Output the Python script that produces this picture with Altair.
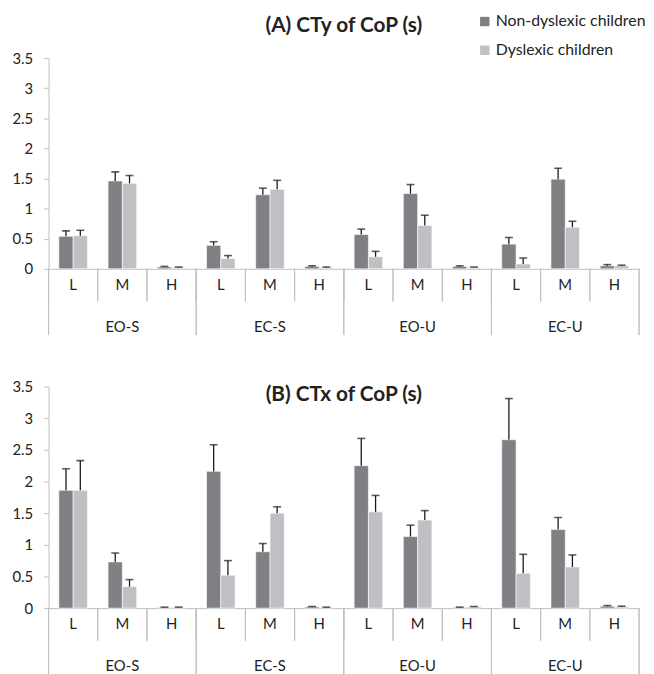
import altair as alt
import pandas as pd

conditions = ["EO-S", "EC-S", "EO-U", "EC-U"]
levels = ["L", "M", "H"]
groups = ["Non-dyslexic children", "Dyslexic children"]
colors = ["#7f7f84", "#bfc0c4"]

# Panel A: CTy of CoP (s)  (order: EO-S L,M,H, EC-S L,M,H, EO-U L,M,H, EC-U L,M,H)
cty_nd = [0.54, 1.46, 0.03, 0.39, 1.23, 0.04, 0.57, 1.25, 0.04, 0.41, 1.49, 0.05]
cty_nd_sd = [0.09, 0.15, 0.01, 0.06, 0.11, 0.01, 0.09, 0.15, 0.01, 0.11, 0.18, 0.02]
cty_d = [0.55, 1.42, 0.02, 0.17, 1.32, 0.02, 0.20, 0.72, 0.02, 0.08, 0.69, 0.05]
cty_d_sd = [0.09, 0.13, 0.01, 0.05, 0.15, 0.01, 0.09, 0.17, 0.01, 0.10, 0.10, 0.01]

# Panel B: CTx of CoP (s)
ctx_nd = [1.86, 0.73, 0.01, 2.16, 0.89, 0.02, 2.25, 1.13, 0.01, 2.66, 1.24, 0.03]
ctx_nd_sd = [0.34, 0.14, 0.005, 0.42, 0.13, 0.005, 0.43, 0.18, 0.005, 0.65, 0.19, 0.01]
ctx_d = [1.86, 0.34, 0.01, 0.52, 1.50, 0.01, 1.52, 1.39, 0.02, 0.55, 0.65, 0.02]
ctx_d_sd = [0.47, 0.11, 0.005, 0.23, 0.10, 0.005, 0.26, 0.15, 0.005, 0.30, 0.19, 0.01]

y_ticks = [0, 0.5, 1, 1.5, 2, 2.5, 3, 3.5]

subs = [f"{c} {l}" for c in conditions for l in levels]

FONT = "Lato"
W = 597
AXIS_GRAY = "#bfbfbf"


def make_df(nd, nd_sd, d, d_sd):
    rows = []
    for i, s in enumerate(subs):
        c, l = s.split(" ")
        for g, v, e in ((groups[0], nd[i], nd_sd[i]), (groups[1], d[i], d_sd[i])):
            rows.append({"sub": s, "cond": c, "level": l, "group": g,
                         "value": v, "top": v + e})
    return pd.DataFrame(rows)


def panel(df, title, h, title_y, show_legend):
    base = alt.Chart(df)
    x = alt.X("sub:N", sort=subs, title=None,
              scale=alt.Scale(paddingInner=0, paddingOuter=0),
              axis=alt.Axis(labelExpr="split(datum.value, ' ')[1]", labelAngle=0,
                            ticks=False, domainColor=AXIS_GRAY, labelPadding=16,
                            labelFontSize=15, labelColor="#222", labelFont=FONT,
                            labelBaseline="middle"))
    xo = alt.XOffset("group:N", sort=groups,
                     scale=alt.Scale(paddingInner=0, paddingOuter=0.72))
    yscale = alt.Scale(domain=[0, 3.5], nice=False)
    yaxis = alt.Axis(values=y_ticks, labelExpr="'' + datum.value", grid=False,
                     domainColor=AXIS_GRAY, tickColor=AXIS_GRAY, tickSize=5,
                     labelFontSize=15, labelColor="#222", labelFont=FONT,
                     labelPadding=11, labelOverlap=False)
    y = alt.Y("value:Q", title=None, scale=yscale, axis=yaxis)
    ytop = alt.Y("top:Q", title=None, scale=yscale, axis=yaxis)
    color = alt.Color("group:N", sort=groups,
                      scale=alt.Scale(domain=groups, range=colors),
                      legend=(alt.Legend(title=None, orient="none", legendX=433, legendY=-45,
                                         symbolType="square", symbolSize=90,
                                         symbolStrokeWidth=0, labelFontSize=16,
                                         labelFont=FONT, labelColor="#222",
                                         rowPadding=13, labelOffset=3)
                              if show_legend else None))
    bars = base.mark_bar(stroke="white", strokeWidth=0.6).encode(x=x, xOffset=xo, y=y, color=color)
    err = base.mark_rule(color="#1a1a1a", strokeWidth=1.3).encode(
        x=x, xOffset=xo, y=y, y2="top:Q")
    caps = base.mark_tick(color="#1a1a1a", size=8, thickness=1.6).encode(
        x=x, xOffset=xo, y=ytop)
    sep_small = base.mark_rule(color=AXIS_GRAY, strokeWidth=1).encode(
        x=alt.X("sub:N", sort=subs, bandPosition=0),
        y=alt.value(h), y2=alt.value(h + 33))
    sep_big = base.transform_filter("datum.level == 'L'").mark_rule(
        color=AXIS_GRAY, strokeWidth=1).encode(
        x=alt.X("sub:N", sort=subs, bandPosition=0),
        y=alt.value(h), y2=alt.value(h + 67))
    sep_end = base.transform_filter(f"datum.sub == '{subs[-1]}'").mark_rule(
        color=AXIS_GRAY, strokeWidth=1).encode(
        x=alt.X("sub:N", sort=subs, bandPosition=1),
        y=alt.value(h), y2=alt.value(h + 67))
    grp_labels = base.transform_filter(
        f"datum.level == 'M' && datum.group == '{groups[0]}'").mark_text(
        fontSize=15, font=FONT, color="#222", baseline="middle").encode(
        x=alt.X("sub:N", sort=subs, bandPosition=0.5), y=alt.value(h + 59),
        text="cond:N")
    ttl = base.transform_filter(f"datum.sub == '{subs[0]}' && datum.group == '{groups[0]}'").mark_text(
        fontSize=21, font=FONT, fontWeight="bold", color="#222", baseline="middle").encode(
        x=alt.value(W / 2), y=alt.value(title_y), text=alt.value(title))
    return alt.layer(bars, err, caps, sep_small, sep_big, sep_end, grp_labels, ttl).properties(
        width=W, height=h)


dfA = make_df(cty_nd, cty_nd_sd, cty_d, cty_d_sd)
dfB = make_df(ctx_nd, ctx_nd_sd, ctx_d, ctx_d_sd)

chart = alt.vconcat(
    panel(dfA, "(A) CTy of CoP (s)", 213, -32, True),
    panel(dfB, "(B) CTx of CoP (s)", 224, 9, False),
    spacing=44,
).properties(
    padding={"left": 4, "top": 2, "right": 0, "bottom": 0}, background="white"
).configure_view(stroke=None)

chart.save("out.html", embed_options={"renderer": "svg", "actions": False})
